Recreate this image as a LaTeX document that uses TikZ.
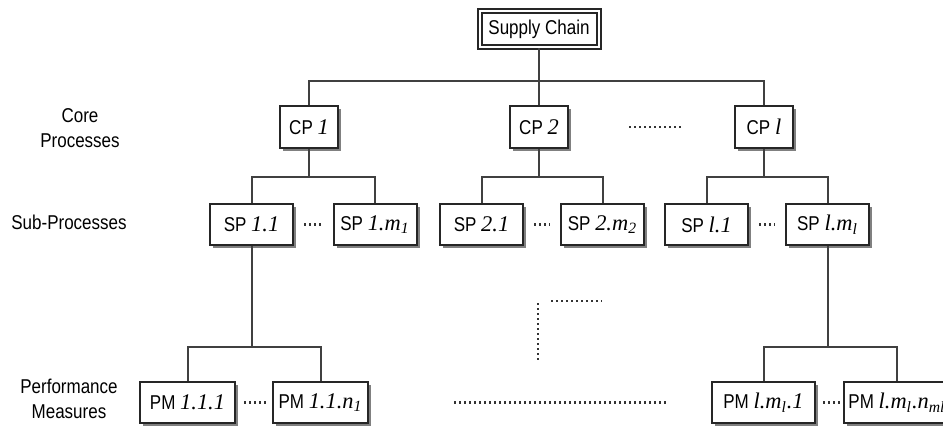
\documentclass[tikz,border=0pt]{standalone}
\usepackage{fontspec}
\setmainfont{Liberation Sans}[FakeStretch=0.85]
\newfontfamily\tmsfont{Liberation Serif}[Scale=1.12]
\usetikzlibrary{shadows}
\newcommand{\ix}[1]{{\tmsfont\itshape #1}}
\newcommand{\subix}[1]{\textsubscript{\ix{#1}}}

\begin{document}
\begin{tikzpicture}[x=0.5pt,y=-0.5pt,
  every node/.style={font=\fontsize{10}{12.5}\selectfont},
  box/.style={draw=black!85, line width=1pt, fill=white, inner sep=0pt,
    minimum height=20.5pt,
    drop shadow={shadow xshift=1.6pt, shadow yshift=-1.6pt, fill=black!50, opacity=1}},
  cpbox/.style={box, minimum width=29pt, minimum height=21pt},
  spbox/.style={box, minimum width=41.5pt},
  pmbox/.style={box, minimum width=47.5pt},
  wire/.style={draw=black!75, line width=1pt},
  dots/.style={black!80, line width=1.2pt, dash pattern=on 1.2pt off 1.3pt},
  lbl/.style={align=center}]
  \useasboundingbox (0,0) rectangle (943,428);

  \node[box, double=white, double distance=1pt, minimum width=59.5pt, minimum height=18pt] (sc) at (539,29) {Supply Chain};

  \node[cpbox] (cp1) at (309,127) {CP \ix{1}};
  \node[cpbox] (cp2) at (539,127) {CP \ix{2}};
  \node[cpbox] (cpl) at (764,127) {CP \ix{l}};

  \node[spbox] (sp11) at (251.5,224.5) {SP \ix{1.1}};
  \node[spbox] (sp1m) at (375,224.5) {SP \ix{1.m}\subix{1}};
  \node[spbox] (sp21) at (481.5,224.5) {SP \ix{2.1}};
  \node[spbox] (sp2m) at (602.5,224.5) {SP \ix{2.m}\subix{2}};
  \node[spbox] (spl1) at (706.5,224.5) {SP \ix{l.1}};
  \node[spbox] (splm) at (827.5,224.5) {SP \ix{l.m}\subix{l}};

  \node[pmbox] (pm111) at (187.5,402.5) {PM \ix{1.1.1}};
  \node[pmbox] (pm11n) at (320.5,402.5) {PM \ix{1.1.n}\subix{1}};
  \node[pmbox, minimum width=51.5pt] (pml1) at (763.5,402.5) {PM \ix{l.m}\subix{l}\ix{.1}};
  \node[pmbox, minimum width=53pt] (pmln) at (897,402.5) {PM \ix{l.m}\subix{l}\ix{.n}\subix{ml}};

  \node[lbl] (core) at (80,128) {Core\\Processes};
  \node[lbl] (sub) at (69,222) {Sub-Processes};
  \node[lbl] (perf) at (69,399) {Performance\\Measures};

  \coordinate (b0) at (539,81);
  \draw[wire] (sc.south) -- (b0);
  \draw[wire] (cp1.north) |- (b0) -| (cpl.north);
  \draw[wire] (b0) -- (cp2.north);

  \draw[wire] (cp1.south) -- ++(0,28) coordinate (b1);
  \draw[wire] (sp11.north) |- (b1) -| (sp1m.north);
  \draw[wire] (cp2.south) -- ++(0,28) coordinate (b2);
  \draw[wire] (sp21.north) |- (b2) -| (sp2m.north);
  \draw[wire] (cpl.south) -- ++(0,28) coordinate (b3);
  \draw[wire] (spl1.north) |- (b3) -| (splm.north);

  \draw[wire] (sp11.south) -- ++(0,101) coordinate (b4);
  \draw[wire] (pm111.north) |- (b4) -| (pm11n.north);
  \draw[wire] (splm.south) -- ++(0,101) coordinate (b5);
  \draw[wire] (pml1.north) |- (b5) -| (pmln.north);

  \draw[dots] ([xshift=30pt]cp2.east) -- ([xshift=-25.5pt]cpl.west);
  \draw[dots] ([xshift=5pt]sp11.east) -- ([xshift=-5pt]sp1m.west);
  \draw[dots] ([xshift=5pt]sp21.east) -- ([xshift=-5pt]sp2m.west);
  \draw[dots] ([xshift=5pt]spl1.east) -- ([xshift=-5pt]splm.west);
  \draw[dots] ([xshift=4pt]pm111.east) -- ([xshift=-3pt]pm11n.west);
  \draw[dots] ([xshift=3.5pt]pml1.east) -- ([xshift=-1pt]pmln.west);
  \draw[dots] ([xshift=42.5pt]pm11n.east) -- ([xshift=-22pt]pml1.west);
  \draw[dots] (538,303) -- (538,360);
  \draw[dots] (551,301) -- (602,301);
\end{tikzpicture}
\end{document}
